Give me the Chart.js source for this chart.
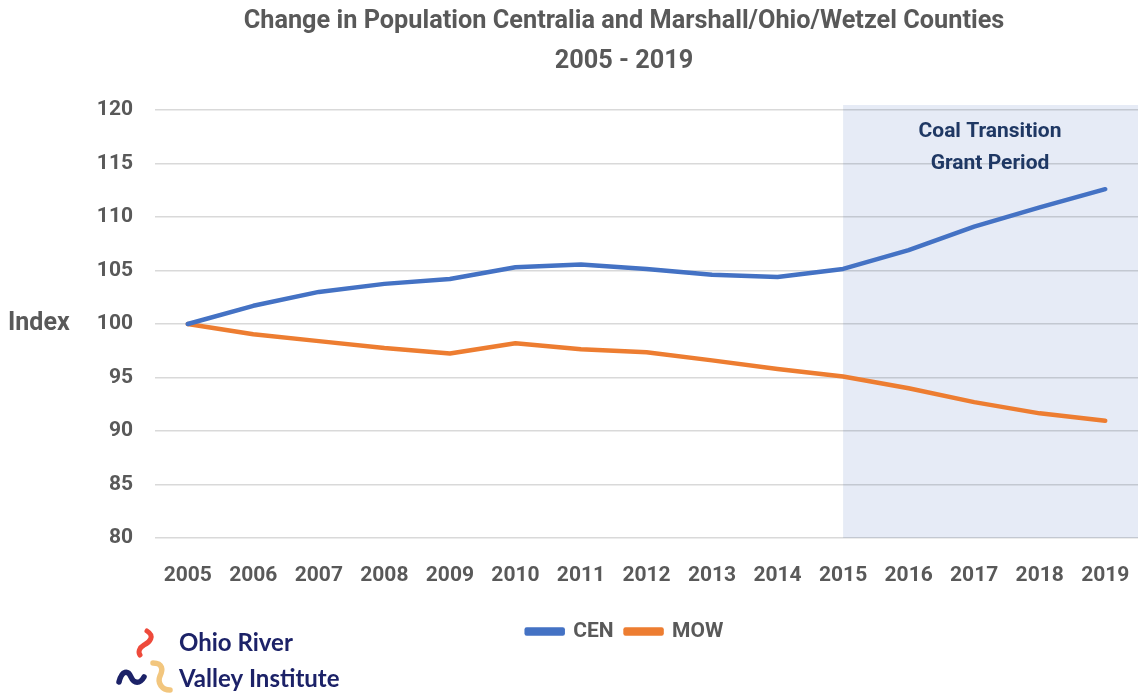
<!DOCTYPE html>
<html>
<head>
<meta charset="utf-8">
<script src="https://cdn.jsdelivr.net/npm/chart.js@4.4.1/dist/chart.umd.min.js"></script>
<style>
  html, body { margin: 0; padding: 0; background: #ffffff; }
  #wrap { position: relative; width: 1138px; height: 698px; }
</style>
</head>
<body>
<div id="wrap"><canvas id="c" width="1138" height="698"></canvas></div>
<script>
// ---- data ----
const years = ['2005','2006','2007','2008','2009','2010','2011','2012','2013','2014','2015','2016','2017','2018','2019'];
const cenValues = [100, 101.7, 103.0, 103.75, 104.2, 105.3, 105.55, 105.15, 104.6, 104.4, 105.15, 106.9, 109.1, 110.9, 112.6];
const mowValues = [100, 99.05, 98.4, 97.75, 97.25, 98.2, 97.65, 97.35, 96.6, 95.8, 95.1, 94.0, 92.7, 91.65, 90.95];
const seriesNames = ['CEN', 'MOW'];
const titleLines = ['Change in Population Centralia and Marshall/Ohio/Wetzel Counties', '2005 - 2019'];
const yAxisLabel = 'Index';
const grantStartYear = '2015';
const grantLabel = ['Coal Transition', 'Grant Period'];
const logoLines = ['Ohio River', 'Valley Institute'];

const FONT = "Roboto, 'Open Sans', sans-serif";
const GRAY = '#595959';

const legendShift = {
  id: 'legendShift',
  afterLayout(chart) {
    const lg = chart.legend;
    if (lg) { lg.left += 56; lg.right += 56; }
  }
};

const decorPlugin = {
  id: 'decor',
  beforeDraw(chart) {
    const { ctx, chartArea, scales } = chart;
    const x0 = scales.x.getPixelForValue(years.indexOf(grantStartYear));
    const yTop = scales.y.getPixelForValue(120) - 5;
    ctx.save();
    ctx.fillStyle = '#e6ebf6';
    ctx.fillRect(x0, yTop, chartArea.right - x0, chartArea.bottom - yTop);
    ctx.restore();
  },
  afterDraw(chart) {
    const { ctx } = chart;
    ctx.save();
    // title
    ctx.fillStyle = GRAY;
    ctx.textAlign = 'center';
    ctx.textBaseline = 'middle';
    ctx.font = "bold 25.3px " + FONT;
    ctx.fillText(titleLines[0], 624, 22);
    ctx.fillText(titleLines[1], 624, 62);
    // y label
    ctx.textAlign = 'left';
    ctx.font = "bold 25px " + FONT;
    ctx.fillText(yAxisLabel, 8, 324);
    // grant period label
    ctx.fillStyle = '#1f3864';
    ctx.textAlign = 'center';
    ctx.font = "bold 21px " + FONT;
    ctx.fillText(grantLabel[0], 990, 132);
    ctx.fillText(grantLabel[1], 990, 164);
    // logo
    ctx.lineCap = 'round';
    ctx.lineJoin = 'round';
    ctx.lineWidth = 5;
    ctx.strokeStyle = '#ee4a3b';
    ctx.beginPath();
    ctx.moveTo(147, 631);
    ctx.bezierCurveTo(155, 636, 150, 642, 144, 645);
    ctx.bezierCurveTo(139, 648, 138, 652, 140, 655);
    ctx.stroke();
    ctx.strokeStyle = '#1c2268';
    ctx.lineWidth = 5.5;
    ctx.beginPath();
    ctx.moveTo(119, 682);
    ctx.bezierCurveTo(122, 670, 128, 670, 131, 677);
    ctx.bezierCurveTo(134, 684, 140, 684, 144, 677);
    ctx.stroke();
    ctx.strokeStyle = '#f2c67e';
    ctx.lineWidth = 5.5;
    ctx.beginPath();
    ctx.moveTo(153, 663);
    ctx.bezierCurveTo(163, 663, 163, 670, 160, 676);
    ctx.bezierCurveTo(157, 683, 162, 690, 170, 690);
    ctx.stroke();
    ctx.fillStyle = '#1c2268';
    ctx.textAlign = 'left';
    ctx.font = "bold 24px Lato, 'Open Sans', sans-serif";
    ctx.fillText(logoLines[0], 179, 643);
    ctx.fillText(logoLines[1], 179, 679);
    ctx.restore();
  }
};

new Chart(document.getElementById('c'), {
  type: 'line',
  data: {
    labels: years,
    datasets: [
      { label: seriesNames[0], data: cenValues, borderColor: '#4472c4', backgroundColor: '#4472c4',
        borderWidth: 4.5, pointRadius: 0, tension: 0, borderCapStyle: 'round', borderJoinStyle: 'round' },
      { label: seriesNames[1], data: mowValues, borderColor: '#ed7d31', backgroundColor: '#ed7d31',
        borderWidth: 4.5, pointRadius: 0, tension: 0, borderCapStyle: 'round', borderJoinStyle: 'round' }
    ]
  },
  options: {
    responsive: false,
    animation: false,
    layout: { padding: { top: 110, left: 0, right: 0, bottom: 46 } },
    plugins: {
      title: { display: false },
      tooltip: { enabled: false },
      legend: {
        display: true,
        position: 'bottom',
        labels: {
          boxWidth: 36, boxHeight: 4, padding: 12,
          color: GRAY,
          font: { family: FONT, size: 21, weight: 'bold' }
        }
      }
    },
    scales: {
      x: {
        offset: true,
        grid: { display: false },
        border: { display: false },
        ticks: { color: GRAY, padding: 17, maxRotation: 0, autoSkip: false,
                 font: { family: FONT, size: 21, weight: 'bold' } },
        afterFit(scale) { scale.height = 71; scale.paddingLeft = 0; scale.paddingRight = 0; }
      },
      y: {
        min: 80, max: 120,
        grid: { color: 'rgba(0,0,0,0.15)', lineWidth: 1.5, drawTicks: false },
        border: { display: false },
        ticks: { stepSize: 5, color: GRAY, padding: 22,
                 font: { family: FONT, size: 21, weight: 'bold' } },
        afterFit(scale) { scale.width = 155; }
      }
    }
  },
  plugins: [legendShift, decorPlugin]
});
</script>
</body>
</html>
